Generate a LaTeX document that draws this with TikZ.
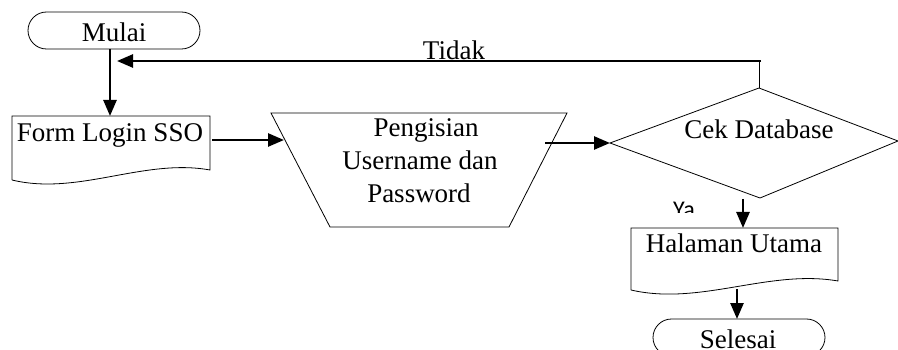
\documentclass[tikz,border=0pt]{standalone}
\usepackage{fontspec}
\setmainfont{Liberation Serif}
\newfontfamily\yafont{Carlito}
\usetikzlibrary{arrows.meta}
\begin{document}
\begin{tikzpicture}[x=1pt,y=-1pt,
  outline/.style={draw=black,line width=0.8pt},
  flow/.style={draw=black,line width=2.6pt,-{Triangle[length=16pt,width=13pt]}},
  lbl/.style={font=\fontsize{27}{32}\selectfont,inner sep=0pt,anchor=base},
]
\useasboundingbox (0,0) rectangle (898,350);

% terminators
\draw[outline,rounded corners=18.5pt] (28,12) rectangle (200,49);
\draw[outline,rounded corners=18.5pt] (653,319) rectangle (825,356);
% documents
\draw[outline] (12,180) -- (12,116) -- (210,116) -- (210,170)
  .. controls (144,158) and (78,196) .. (12,180);
\draw[outline] (631,290) -- (631,228) -- (838,228) -- (838,281)
  .. controls (769,269) and (700,306) .. (631,290);
% manual input
\draw[outline] (271,113) -- (567,113) -- (509,227) -- (330,227) -- cycle;
% decision
\draw[outline] (610,143) -- (759,88) -- (898,141) -- (760,198) -- cycle;

% texts
\node[lbl] (mulai) at (114,42) {Mulai};
\node[lbl] (form) at (110,142) {Form Login SSO};
\node[lbl] (isi1) at (426,137) {Pengisian};
\node[lbl] (isi2) at (420,170) {Username dan};
\node[lbl] (isi3) at (419,203) {Password};
\node[lbl] (cek) at (759,139) {Cek Database};
\node[lbl] (halaman) at (734,253) {Halaman Utama};
\node[lbl] (selesai) at (738,348) {Selesai};
\node[lbl] (tidak) at (454,60) {Tidak};
\begin{scope}
  \clip (660,195) rectangle (715,213);
  \node[inner sep=0pt,anchor=base,font=\yafont\fontsize{24}{28}\selectfont] (ya) at (684,218) {Ya};
\end{scope}

% connector ends
\coordinate (mulaiS) at (110,49);
\coordinate (formN) at (110,116);
\coordinate (formE) at (212,140);
\coordinate (isiW) at (284,140);
\coordinate (isiE) at (545,143);
\coordinate (cekW) at (610,143);
\coordinate (cekN) at (759,88);
\coordinate (loopC) at (759,61);
\coordinate (loopR) at (761,61);
\coordinate (loopEnd) at (117,61);
\coordinate (cekS) at (743,199);
\coordinate (halN) at (743,228);
\coordinate (halS) at (737,289);
\coordinate (selN) at (737,319);

% connectors
\draw[flow] (mulaiS) -- (formN);
\draw[flow] (formE) -- (isiW);
\draw[flow] (isiE) -- (cekW);
\draw[outline] (cekN) -- (loopC);
\draw[flow] (loopR) -- (loopEnd);
\draw[flow] (cekS) -- (halN);
\draw[flow] (halS) -- (selN);
\end{tikzpicture}
\end{document}
